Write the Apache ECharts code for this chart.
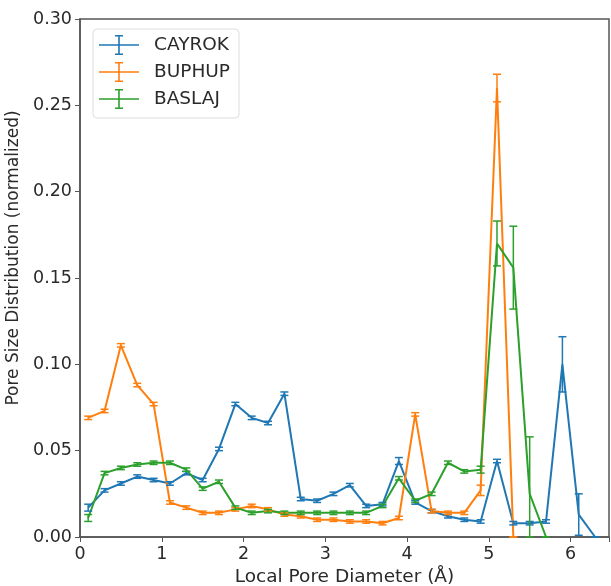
<!DOCTYPE html>
<html>
<head>
<meta charset="utf-8">
<script src="https://cdn.jsdelivr.net/npm/echarts@6/dist/echarts.min.js"></script>
<style>
  html, body { margin: 0; padding: 0; background: #fff; }
  #chart { width: 611px; height: 586px; }
</style>
</head>
<body>
<div id="chart"></div>
<script>
// pore diameter (Å) for every sample point
var diameters = [0.1, 0.3, 0.5, 0.7, 0.9, 1.1, 1.3, 1.5, 1.7, 1.9, 2.1, 2.3, 2.5, 2.7, 2.9, 3.1,
  3.3, 3.5, 3.7, 3.9, 4.1, 4.3, 4.5, 4.7, 4.9, 5.1, 5.3, 5.5, 5.7, 5.9, 6.1, 6.3];

var cayrok = [0.017, 0.027, 0.031, 0.035, 0.033, 0.031, 0.037, 0.033, 0.051, 0.077, 0.069, 0.066, 0.083, 0.022, 0.021, 0.025,
  0.030, 0.018, 0.019, 0.044, 0.020, 0.015, 0.012, 0.010, 0.009, 0.044, 0.008, 0.008, 0.009, 0.100, 0.013, 0.0];
var cayrokErr = [0.002, 0.001, 0.001, 0.001, 0.001, 0.001, 0.001, 0.001, 0.001, 0.001, 0.001, 0.001, 0.001, 0.001, 0.001, 0.001,
  0.001, 0.001, 0.001, 0.002, 0.001, 0.001, 0.001, 0.001, 0.001, 0.001, 0.001, 0.001, 0.001, 0.016, 0.012, 0.0];

var buphup = [0.069, 0.073, 0.111, 0.088, 0.077, 0.020, 0.017, 0.014, 0.014, 0.016, 0.018, 0.016, 0.013, 0.012, 0.010, 0.010,
  0.009, 0.009, 0.008, 0.011, 0.071, 0.015, 0.014, 0.014, 0.027, 0.260, 0.0];
var buphupErr = [0.001, 0.001, 0.001, 0.001, 0.001, 0.001, 0.001, 0.001, 0.001, 0.001, 0.001, 0.001, 0.001, 0.001, 0.001, 0.001,
  0.001, 0.001, 0.001, 0.001, 0.001, 0.001, 0.001, 0.001, 0.003, 0.008, 0.0];

var baslaj = [0.011, 0.037, 0.040, 0.042, 0.043, 0.043, 0.039, 0.028, 0.032, 0.017, 0.014, 0.015, 0.014, 0.014, 0.014, 0.014,
  0.014, 0.014, 0.018, 0.034, 0.021, 0.025, 0.043, 0.038, 0.039, 0.170, 0.156, 0.025, 0.0];
var baslajErr = [0.002, 0.001, 0.001, 0.001, 0.001, 0.001, 0.001, 0.001, 0.001, 0.001, 0.001, 0.001, 0.001, 0.001, 0.001, 0.001,
  0.001, 0.001, 0.001, 0.001, 0.001, 0.001, 0.001, 0.001, 0.002, 0.013, 0.024, 0.033, 0.0];

var seriesNames = ["CAYROK", "BUPHUP", "BASLAJ"];
var colors = ["#1f77b4", "#ff7f0e", "#2ca02c"];
var yTicks = [0, 0.05, 0.10, 0.15, 0.20, 0.25, 0.30];
var xTicks = [0, 1, 2, 3, 4, 5, 6];

var font = "DejaVu Sans";
var axisColor = "#555";
var textColor = "#2a2a2a";
// legend handle: horizontal line crossed by an error bar with caps
var legendIcon = "path://M0,9.2h40v1.6h-40z M19.2,0h1.6v20h-1.6z M16,0h8v1.4h-8z M16,18.6h8v1.4h-8z";

function linePoints(values) {
  return values.map(function(v, i) { return [diameters[i], v]; });
}

function errPoints(values, errs) {
  return values.map(function(v, i) {
    return [diameters[i], Math.max(0, v - errs[i]), v + errs[i]];
  });
}

function errorBarSeries(name, color, values, errs) {
  return {
    name: name,
    type: "custom",
    data: errPoints(values, errs),
    z: 3,
    renderItem: function(params, api) {
      var x = api.value(0);
      var top = api.coord([x, api.value(2)]);
      var bot = api.coord([x, api.value(1)]);
      var cap = 4;
      var style = { stroke: color, lineWidth: 1.5 };
      return {
        type: "group",
        children: [
          { type: "line", shape: { x1: top[0], y1: top[1], x2: bot[0], y2: bot[1] }, style: style },
          { type: "line", shape: { x1: top[0] - cap, y1: top[1], x2: top[0] + cap, y2: top[1] }, style: style },
          { type: "line", shape: { x1: bot[0] - cap, y1: bot[1], x2: bot[0] + cap, y2: bot[1] }, style: style }
        ]
      };
    }
  };
}

function lineSeries(name, color, values) {
  return {
    name: name,
    type: "line",
    data: linePoints(values),
    symbol: "none",
    z: 2,
    lineStyle: { color: color, width: 2 },
    itemStyle: { color: color }
  };
}

var chart = echarts.init(document.getElementById("chart"));
chart.setOption({
  animation: false,
  color: colors,
  grid: {
    left: 80, right: 2, top: 19, bottom: 49, containLabel: false,
    outerBoundsMode: "none",
    show: true, borderColor: axisColor, borderWidth: 1.5
  },
  legend: {
    orient: "vertical",
    left: 93,
    top: 29,
    padding: [6, 9, 9, 6],
    itemGap: 7,
    itemWidth: 40,
    itemHeight: 20,
    borderColor: "#ddd",
    borderWidth: 1,
    borderRadius: 4,
    backgroundColor: "#fff",
    textStyle: { fontFamily: font, fontSize: 18.5, color: textColor, padding: [0, 0, 0, 10] },
    data: seriesNames.map(function(n, i) {
      return { name: n, icon: legendIcon, itemStyle: { color: colors[i] } };
    })
  },
  xAxis: {
    type: "value",
    min: 0,
    max: 6.47,
    interval: 1,
    name: "Local Pore Diameter (Å)",
    nameLocation: "middle",
    nameGap: 27,
    nameTextStyle: { fontFamily: font, fontSize: 18.5, color: textColor },
    splitLine: { show: false },
    axisLine: { show: true, lineStyle: { color: axisColor, width: 1.5 } },
    axisTick: { show: true, length: 5, lineStyle: { color: axisColor } },
    axisLabel: {
      fontFamily: font, fontSize: 17.5, color: textColor, margin: 8,
      formatter: function(v) { return xTicks.indexOf(v) >= 0 ? String(v) : ""; }
    }
  },
  yAxis: {
    type: "value",
    min: 0,
    max: 0.30,
    interval: 0.05,
    name: "Pore Size Distribution (normalized)",
    nameLocation: "middle",
    nameRotate: 90,
    nameGap: 48,
    nameTextStyle: { fontFamily: font, fontSize: 17, color: textColor, padding: [0, 0, 0, 40] },
    splitLine: { show: false },
    axisLine: { show: true, lineStyle: { color: axisColor, width: 1.5 } },
    axisTick: { show: true, length: 5, lineStyle: { color: axisColor } },
    axisLabel: {
      fontFamily: font, fontSize: 17.5, color: textColor, margin: 8,
      formatter: function(v) { return v.toFixed(2); }
    }
  },
  series: [
    lineSeries(seriesNames[0], colors[0], cayrok),
    errorBarSeries(seriesNames[0], colors[0], cayrok, cayrokErr),
    lineSeries(seriesNames[1], colors[1], buphup),
    errorBarSeries(seriesNames[1], colors[1], buphup, buphupErr),
    lineSeries(seriesNames[2], colors[2], baslaj),
    errorBarSeries(seriesNames[2], colors[2], baslaj, baslajErr)
  ]
});
</script>
</body>
</html>
